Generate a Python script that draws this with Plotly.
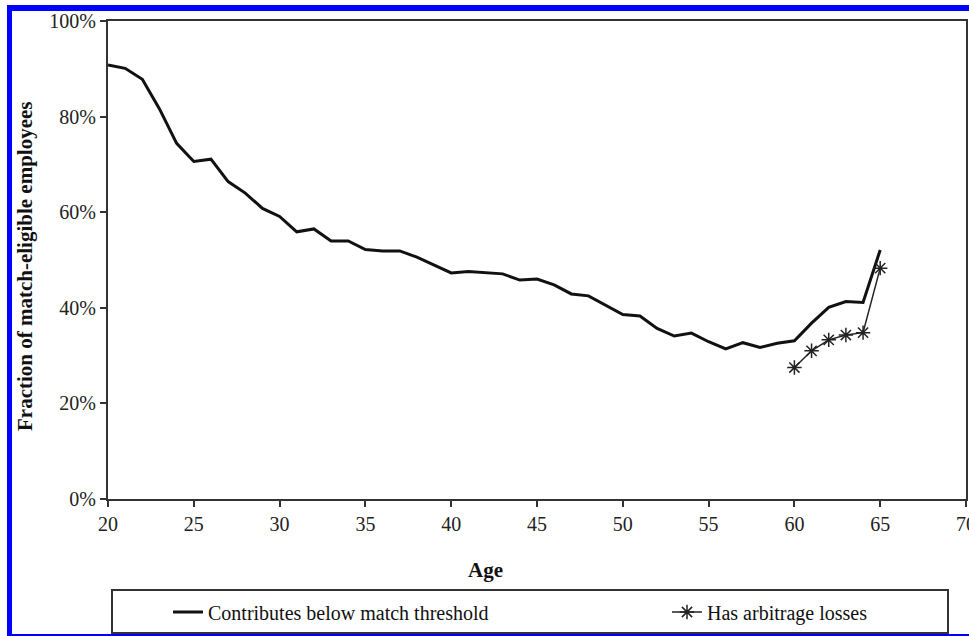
import plotly.graph_objects as go

# ---- data ----
ages_below = list(range(20, 66))
pct_below = [90.8, 90.1, 87.8, 81.6, 74.4, 70.6, 71.1, 66.4, 64.0, 60.8,
             59.1, 55.9, 56.5, 54.0, 54.0, 52.2, 51.9, 51.9, 50.6, 49.0,
             47.3, 47.6, 47.4, 47.1, 45.8, 46.0, 44.8, 42.9, 42.5, 40.6,
             38.6, 38.3, 35.7, 34.1, 34.7, 32.9, 31.4, 32.7, 31.7, 32.6,
             33.1, 36.8, 40.1, 41.3, 41.1, 52.1]
ages_arb = [60, 61, 62, 63, 64, 65]
pct_arb = [27.5, 31.0, 33.3, 34.3, 34.8, 48.3]
x_ticks = [20, 25, 30, 35, 40, 45, 50, 55, 60, 65, 70]
y_ticks = [0, 20, 40, 60, 80, 100]
name_below = "Contributes below match threshold"
name_arb = "Has arbitrage losses"

W, H = 969, 636
L, R, T, B = 108, 966, 21, 499
PW, PH = R - L, B - T

def px(x):
    return (x - L) / PW

def py(y):
    return (B - y) / PH

FONT = "Liberation Serif"

fig = go.Figure()
fig.add_trace(go.Scatter(x=ages_below, y=pct_below, mode="lines", name=name_below,
                         line=dict(color="#111111", width=3), legend="legend"))
fig.add_trace(go.Scatter(x=ages_arb, y=pct_arb, mode="lines+markers", name=name_arb,
                         line=dict(color="#222222", width=1.5),
                         marker=dict(symbol="asterisk-open", size=12,
                                     line=dict(color="#111111", width=1.5)),
                         legend="legend2"))

shapes = [
    # legend box
    dict(type="rect", xref="paper", yref="paper", x0=px(112), x1=px(948), y0=py(633), y1=py(590),
         line=dict(color="#333333", width=2), fillcolor="rgba(0,0,0,0)"),
    # blue frame
    dict(type="rect", xref="paper", yref="paper", x0=px(7), x1=px(975), y0=py(11), y1=py(5),
         line=dict(width=0), fillcolor="#0000ff"),
    dict(type="rect", xref="paper", yref="paper", x0=px(7), x1=px(12), y0=py(640), y1=py(5),
         line=dict(width=0), fillcolor="#0000ff"),
    dict(type="rect", xref="paper", yref="paper", x0=px(7), x1=px(975), y0=py(636), y1=py(634),
         line=dict(width=0), fillcolor="#0000ff"),
]

annotations = [
    dict(text="<b>Fraction of match-eligible employees</b>", xref="paper", yref="paper",
         x=px(25), y=py(266), xanchor="center", yanchor="middle", textangle=-90,
         showarrow=False, font=dict(family=FONT, size=21, color="#111111")),
    dict(text="<b>Age</b>", xref="paper", yref="paper",
         x=px(485), y=py(570), xanchor="center", yanchor="middle",
         showarrow=False, font=dict(family=FONT, size=21, color="#111111")),
]

leg_common = dict(orientation="h", xanchor="left", yanchor="middle",
                  bgcolor="rgba(0,0,0,0)", borderwidth=0,
                  font=dict(family=FONT, size=20, color="#111111"))

fig.update_layout(
    width=W, height=H,
    margin=dict(l=L, r=W - R, t=T, b=H - B, pad=0, autoexpand=False),
    paper_bgcolor="white", plot_bgcolor="white",
    showlegend=True,
    legend=dict(x=px(168), y=py(612), **leg_common),
    legend2=dict(x=px(667), y=py(612), **leg_common),
    shapes=shapes,
    annotations=annotations,
    font=dict(family=FONT, size=20, color="#222222"),
)
fig.update_xaxes(range=[20, 70], tickvals=x_ticks, ticktext=[str(v) for v in x_ticks],
                 showline=True, mirror=True, linecolor="#333333", linewidth=2,
                 ticks="outside", ticklen=6, tickcolor="#333333", tickwidth=1.5,
                 showgrid=False, zeroline=False, ticklabeloverflow="allow",
                 automargin=False,
                 tickfont=dict(family=FONT, size=20, color="#222222"))
fig.update_yaxes(range=[0, 100], tickvals=y_ticks, ticktext=[f"{v}%" for v in y_ticks],
                 showline=True, mirror=True, linecolor="#333333", linewidth=2,
                 ticks="outside", ticklen=6, tickcolor="#333333", tickwidth=1.5,
                 showgrid=False, zeroline=False, automargin=False,
                 tickfont=dict(family=FONT, size=20, color="#222222"))

fig.write_html("out.html", config={"displayModeBar": False},
               post_script="document.body.style.margin='0';document.body.style.overflow='hidden';")
